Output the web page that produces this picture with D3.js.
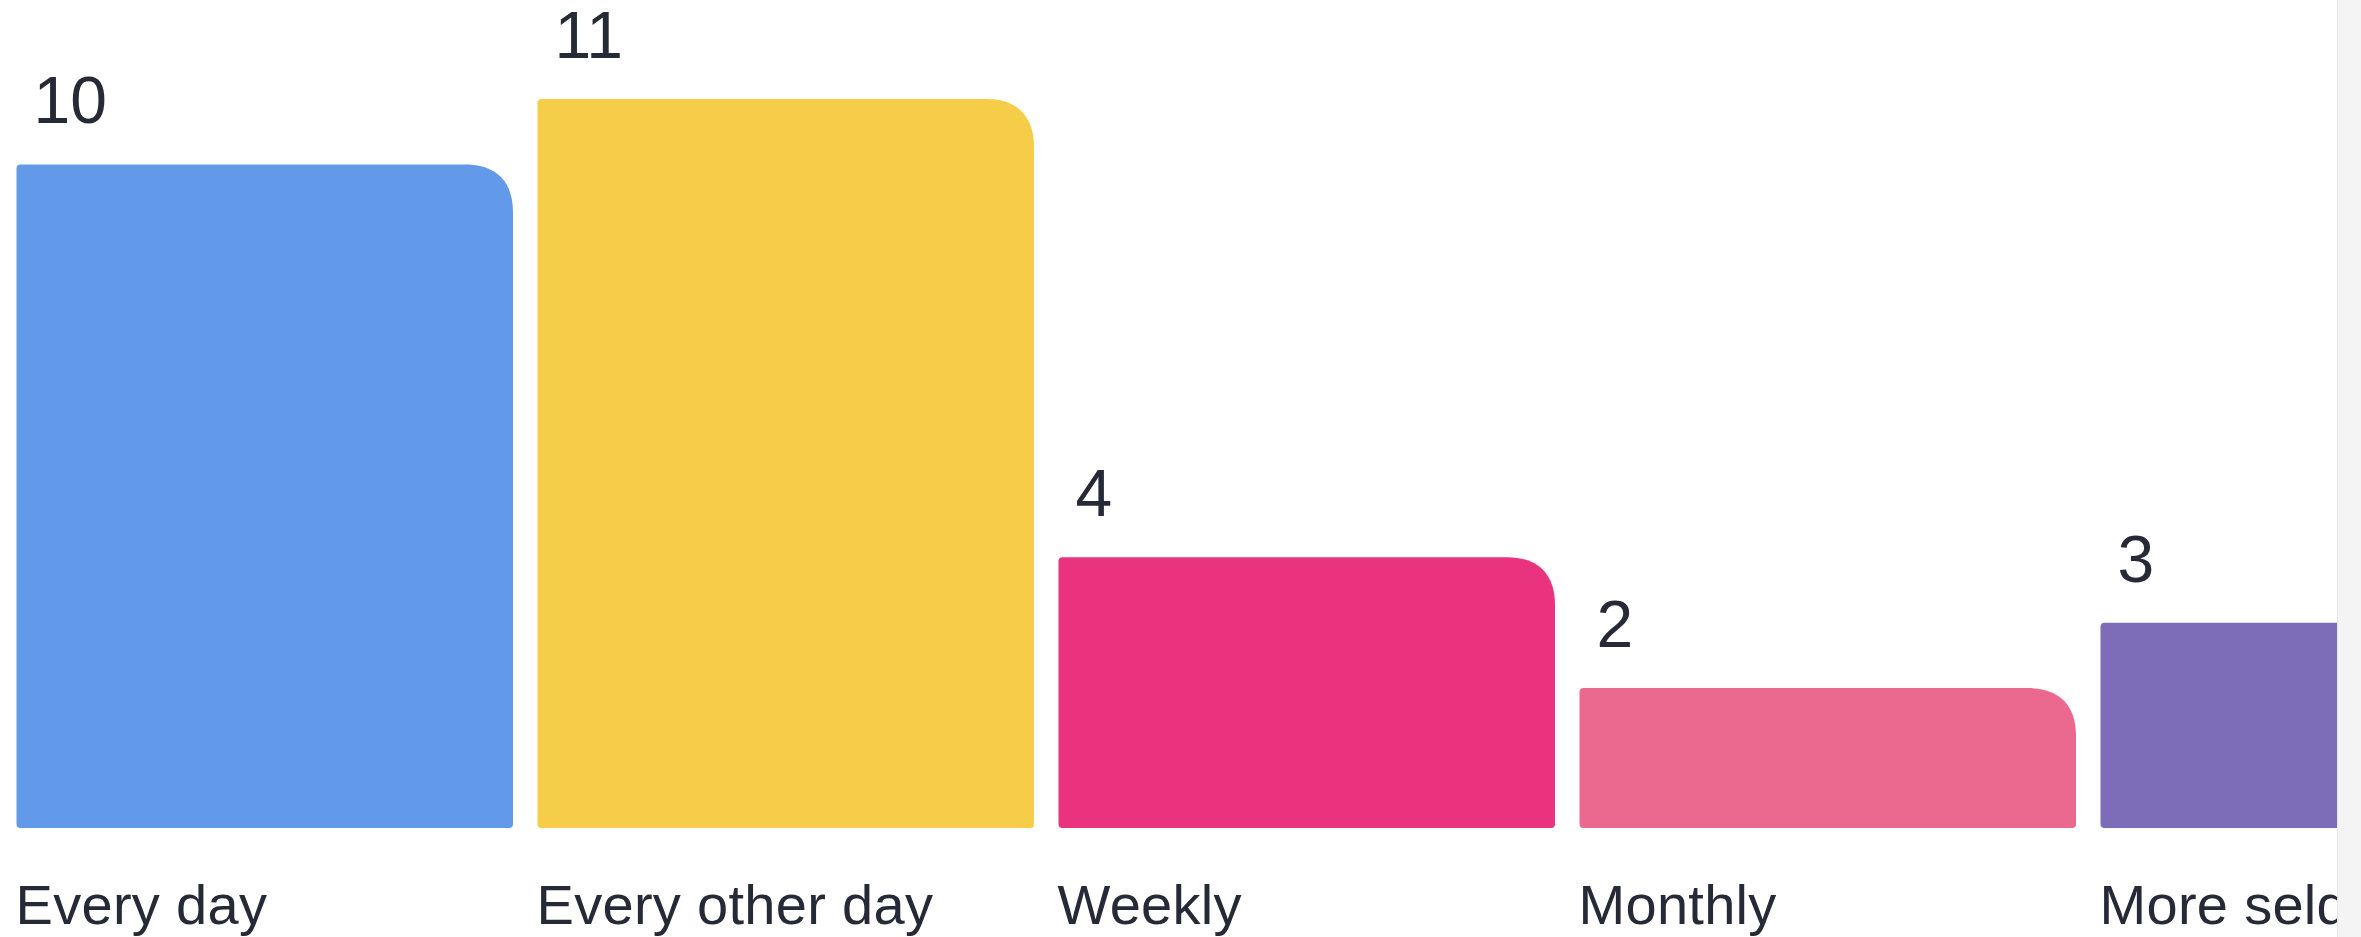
<!DOCTYPE html>
<html>
<head>
<meta charset="utf-8">
<script src="https://cdn.jsdelivr.net/npm/d3@7"></script>
<style>
  html, body { margin: 0; padding: 0; background: #fff; overflow: hidden; }
  text { font-family: "Liberation Sans", Arial, sans-serif; fill: #262a37; }
</style>
</head>
<body>
<div id="chart"></div>
<script>
// data
var categories = ["Every day", "Every other day", "Weekly", "Monthly", "More seldom"];
var values = [10, 11, 4, 2, 3];
var colors = ["#6299e8", "#f6cd48", "#ea337e", "#eb698f", "#7d6cb8"];

var width = 2361,
    height = 937,
    plotRight = 2337,   // the page clips the chart here (scrollbar strip after it)
    baseline = 828;

var svg = d3.select("#chart").append("svg")
    .attr("width", width)
    .attr("height", height);

svg.append("defs").append("clipPath")
    .attr("id", "plotclip")
  .append("rect")
    .attr("x", 0).attr("y", 0)
    .attr("width", plotRight).attr("height", height);

var x = d3.scaleBand()
    .domain(categories)
    .range([16.5, 2597])
    .paddingInner(0.047)
    .paddingOuter(0);

// bars keep a small minimum height, so zero sits a bit above the bottom edge
var y = d3.scaleLinear()
    .domain([0, 11])
    .range([819, 99]);

// rounded rect, big radius on top-right only
function barPath(x0, y0, w, h) {
    var R = 48, r = 4;
    return "M" + (x0 + r) + "," + y0 +
        "H" + (x0 + w - R) +
        "C" + (x0 + w - R * 0.35) + "," + y0 + " " + (x0 + w) + "," + (y0 + R * 0.35) + " " + (x0 + w) + "," + (y0 + R) +
        "V" + (y0 + h - r) +
        "A" + r + "," + r + " 0 0 1 " + (x0 + w - r) + "," + (y0 + h) +
        "H" + (x0 + r) +
        "A" + r + "," + r + " 0 0 1 " + x0 + "," + (y0 + h - r) +
        "V" + (y0 + r) +
        "A" + r + "," + r + " 0 0 1 " + (x0 + r) + "," + y0 + "Z";
}

var data = categories.map(function(c, i) {
    return {cat: c, value: values[i], color: colors[i]};
});

var g = svg.append("g").attr("clip-path", "url(#plotclip)");

g.selectAll("path.bar")
    .data(data)
    .enter()
    .append("path")
    .attr("class", "bar")
    .attr("fill", function(d) { return d.color; })
    .attr("d", function(d) {
        var top = y(d.value);
        return barPath(x(d.cat), top, x.bandwidth(), baseline - top);
    });

// value labels above bars
g.selectAll("text.value")
    .data(data)
    .enter()
    .append("text")
    .attr("class", "value")
    .attr("x", function(d) { return x(d.cat) + 17; })
    .attr("y", function(d) { return y(d.value) - 41; })
    .style("font-size", "66px")
    .text(function(d) { return d.value; });

// category labels under bars
g.selectAll("text.cat")
    .data(data)
    .enter()
    .append("text")
    .attr("class", "cat")
    .attr("x", function(d) { return x(d.cat) - 1; })
    .attr("y", 924)
    .style("font-size", "56px")
    .style("letter-spacing", "0.3px")
    .text(function(d) { return d.cat; });

// scrollbar strip on the right edge
svg.append("rect")
    .attr("x", plotRight)
    .attr("y", 0)
    .attr("width", width - plotRight)
    .attr("height", height)
    .attr("fill", "#f4f4f4");
svg.append("line")
    .attr("x1", plotRight + 0.5).attr("x2", plotRight + 0.5)
    .attr("y1", 0).attr("y2", height)
    .attr("stroke", "#e6e6e6");
</script>
</body>
</html>
